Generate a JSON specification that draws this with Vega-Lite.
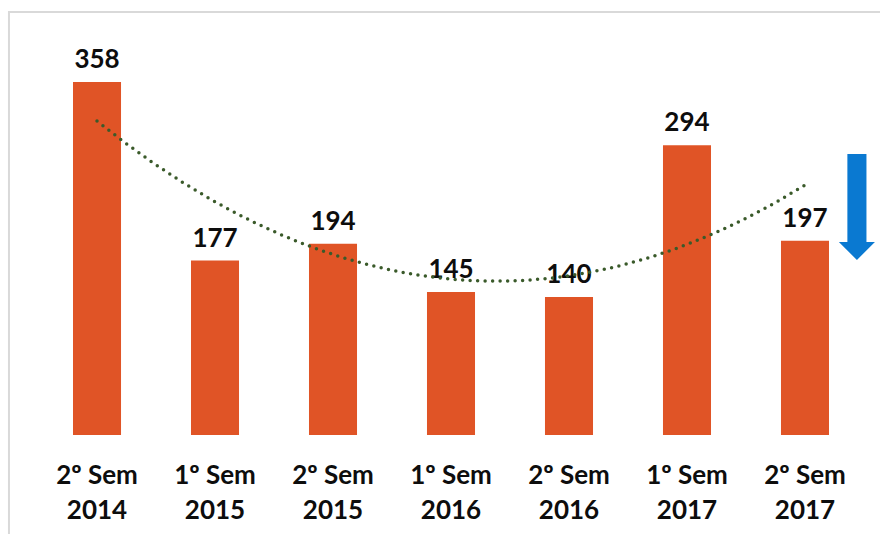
{
  "$schema": "https://vega.github.io/schema/vega-lite/v6.json",
  "autosize": "none",
  "width": 826,
  "height": 414,
  "padding": {"left": 38, "top": 21, "right": 16, "bottom": 99},
  "background": "white",
  "config": {"view": {"stroke": null}, "font": "Lato"},
  "data": {
    "values": [
      {"i": 1, "label": "2º Sem 2014", "v": 358},
      {"i": 2, "label": "1º Sem 2015", "v": 177},
      {"i": 3, "label": "2º Sem 2015", "v": 194},
      {"i": 4, "label": "1º Sem 2016", "v": 145},
      {"i": 5, "label": "2º Sem 2016", "v": 140},
      {"i": 6, "label": "1º Sem 2017", "v": 294},
      {"i": 7, "label": "2º Sem 2017", "v": 197}
    ]
  },
  "layer": [
    {
      "encoding": {
        "x": {
          "field": "label",
          "type": "nominal",
          "sort": null,
          "scale": {"paddingInner": 0.593, "paddingOuter": 0.2966},
          "axis": {
            "title": null,
            "domain": false,
            "ticks": false,
            "labelAngle": 0,
            "labelExpr": "[slice(datum.label, 0, 6), slice(datum.label, 7)]",
            "labelFont": "Lato",
            "labelFontSize": 26,
            "labelFontWeight": "bold",
            "labelColor": "#0D0D0D",
            "labelLineHeight": 35,
            "labelPadding": 27
          }
        },
        "y": {
          "field": "v",
          "type": "quantitative",
          "scale": {"domain": [0, 420], "nice": false},
          "axis": null
        }
      },
      "layer": [
        {"mark": {"type": "bar", "color": "#E05426"}},
        {
          "mark": {
            "type": "text",
            "baseline": "alphabetic",
            "dy": -14,
            "fontSize": 26,
            "fontWeight": "bold",
            "font": "Lato",
            "color": "#0D0D0D"
          },
          "encoding": {"text": {"field": "v", "type": "quantitative"}}
        }
      ]
    },
    {
      "encoding": {},
      "layer": [
        {
          "transform": [{"regression": "v", "on": "i", "method": "poly", "order": 2}],
          "mark": {
            "type": "line",
            "color": "#3A5A2A",
            "strokeWidth": 3.5,
            "strokeDash": [0, 7.5],
            "strokeCap": "round"
          },
          "encoding": {
            "x": {"field": "i", "type": "quantitative", "scale": {"domain": [0.5, 7.5], "nice": false, "zero": false}, "axis": null},
            "y": {"field": "v", "type": "quantitative", "scale": {"domain": [0, 420], "nice": false}, "axis": null}
          }
        },
        {
          "data": {"values": [{"name": "arrow"}]},
          "mark": {
            "type": "point",
            "shape": "M -0.18 -1 L 0.18 -1 L 0.18 0.66 L 0.34 0.66 L 0 1 L -0.34 0.66 L -0.18 0.66 Z",
            "filled": true,
            "color": "#0A79D1",
            "opacity": 1,
            "size": 11236
          },
          "encoding": {
            "x": {"datum": 7.44, "type": "quantitative"},
            "y": {"datum": 231.3, "type": "quantitative"}
          }
        },
        {
          "data": {"values": [{"name": "frame"}]},
          "mark": {"type": "rect", "fill": null, "stroke": "#D9D9D9", "strokeWidth": 2, "clip": false},
          "encoding": {
            "x": {"datum": 0.254, "type": "quantitative"},
            "x2": {"datum": 7.77},
            "y": {"datum": 429.1, "type": "quantitative"},
            "y2": {"datum": -112}
          }
        }
      ]
    }
  ],
  "resolve": {"scale": {"x": "independent"}, "axis": {"x": "independent"}}
}
